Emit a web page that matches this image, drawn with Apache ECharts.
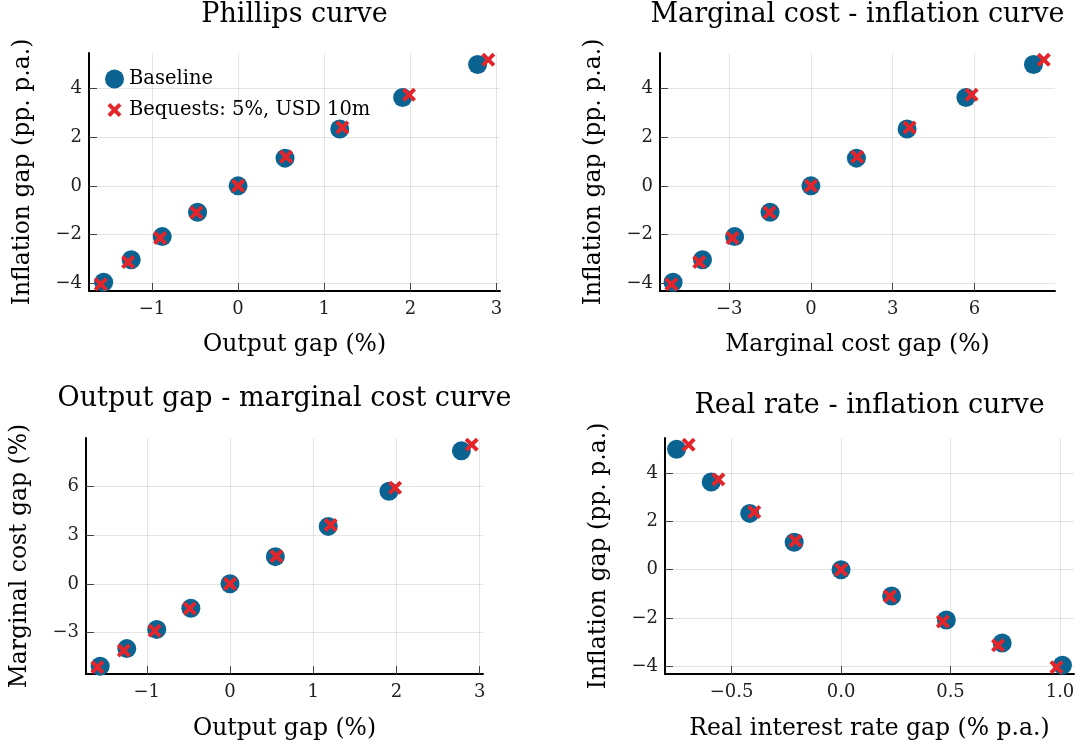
<!DOCTYPE html>
<html>
<head>
<meta charset="utf-8">
<script src="https://cdn.jsdelivr.net/npm/echarts@6/dist/echarts.min.js"></script>
<style>html,body{margin:0;padding:0;background:#fff}#c{width:1084px;height:749px}</style>
</head>
<body>
<div id="c"></div>
<script>
// ---- data ----
const outputBase = [-1.56, -1.24, -0.88, -0.47, 0, 0.545, 1.18, 1.91, 2.78];
const inflBase   = [-3.97, -3.04, -2.09, -1.09, 0, 1.14, 2.34, 3.64, 5.0];
const mcBase     = [-5.06, -3.98, -2.80, -1.50, 0, 1.67, 3.53, 5.69, 8.17];
const rrBase     = [1.011, 0.736, 0.481, 0.231, 0, -0.214, -0.417, -0.593, -0.751];

const outputBeq  = [-1.593, -1.276, -0.905, -0.484, 0, 0.557, 1.21, 1.984, 2.904];
const inflBeq    = [-4.05, -3.14, -2.15, -1.10, 0, 1.20, 2.40, 3.75, 5.19];
const mcBeq      = [-5.12, -4.10, -2.88, -1.52, 0, 1.70, 3.62, 5.90, 8.55];
const rrBeq      = [0.984, 0.717, 0.465, 0.223, 0, -0.208, -0.396, -0.560, -0.696];

const outputTicks = [-1, 0, 1, 2, 3];
const inflTicks   = [-4, -2, 0, 2, 4];
const mcTicks     = [-3, 0, 3, 6];
const rrTicks     = [-0.5, 0, 0.5, 1.0];

const seriesNames = ['Baseline', 'Bequests: 5%, USD 10m'];
const titles = ['Phillips curve', 'Marginal cost - inflation curve', 'Output gap - marginal cost curve', 'Real rate - inflation curve'];

// ---- styling ----
const FONT = 'DejaVu Serif';
const BLUE = '#0a6390';
const RED = '#e3262b';
const X_PATH = 'path://M2,0 L5,3 L8,0 L10,2 L7,5 L10,8 L8,10 L5,7 L2,10 L0,8 L3,5 L0,2 Z';
const X_LEGEND = 'path://M-1.8,-1.8 M11.8,11.8 M2,0 L5,3 L8,0 L10,2 L7,5 L10,8 L8,10 L5,7 L2,10 L0,8 L3,5 L0,2 Z';

function zip(a, b) { return a.map((v, i) => [v, b[i]]); }
function fmt(dec) {
  return v => {
    let s = dec ? Number(v).toFixed(dec) : String(Math.round(v * 1000) / 1000);
    return s.replace('-', '\u2212');
  };
}

const grids = [
  {left: 89, top: 53, width: 411, height: 238},
  {left: 660, top: 53, width: 395, height: 238},
  {left: 86, top: 438, width: 397, height: 236},
  {left: 665, top: 438, width: 409, height: 236}
];

function axis(kind, idx, name, min, max, ticks, dec, nameGap) {
  return {
    type: 'value',
    gridIndex: idx,
    name: name,
    nameLocation: 'middle',
    nameGap: nameGap,
    nameTextStyle: {fontFamily: FONT, fontSize: kind === 'x' ? 23.5 : 23.5, color: '#000'},
    min: min, max: max,
    axisLine: {show: true, onZero: false, lineStyle: {color: '#000', width: 2}},
    axisTick: {show: true, inside: true, length: 8, customValues: ticks, lineStyle: {color: '#444', width: 1}},
    axisLabel: {show: true, customValues: ticks, margin: kind === 'x' ? 9 : 7, fontFamily: FONT, fontSize: 18, color: '#222', formatter: fmt(dec), showMinLabel: true, showMaxLabel: true},
    splitLine: {show: true, lineStyle: {color: 'rgba(0,0,0,0.1)', width: 1}}
  };
}

const xAxes = [
  axis('x', 0, 'Output gap (%)', -1.73, 3.04, outputTicks, 0, 42),
  axis('x', 1, 'Marginal cost gap (%)', -5.54, 8.96, mcTicks, 0, 42),
  axis('x', 2, 'Output gap (%)', -1.73, 3.04, outputTicks, 0, 43),
  axis('x', 3, 'Real interest rate gap (% p.a.)', -0.804, 1.064, rrTicks, 1, 43)
];
const yAxes = [
  axis('y', 0, 'Inflation gap (pp. p.a.)', -4.33, 5.47, inflTicks, 0, 54),
  axis('y', 1, 'Inflation gap (pp. p.a.)', -4.33, 5.47, inflTicks, 0, 54),
  axis('y', 2, 'Marginal cost gap (%)', -5.54, 8.96, mcTicks, 0, 54),
  axis('y', 3, 'Inflation gap (pp. p.a.)', -4.33, 5.47, inflTicks, 0, 54)
];

const pairs = [
  [outputBase, inflBase, outputBeq, inflBeq],
  [mcBase, inflBase, mcBeq, inflBeq],
  [outputBase, mcBase, outputBeq, mcBeq],
  [rrBase, inflBase, rrBeq, inflBeq]
];

const series = [];
pairs.forEach((p, i) => {
  series.push({
    type: 'scatter', name: seriesNames[0], xAxisIndex: i, yAxisIndex: i,
    data: zip(p[0], p[1]), symbol: 'circle', symbolSize: 19,
    itemStyle: {color: BLUE, opacity: 1}, z: 2, silent: true
  });
  series.push({
    type: 'scatter', name: seriesNames[1], xAxisIndex: i, yAxisIndex: i,
    data: zip(p[2], p[3]), symbol: X_PATH, symbolSize: 14,
    itemStyle: {color: RED, opacity: 1}, z: 3, silent: true
  });
});

const titleCenters = [
  [294.5, 1], [857.5, 1], [284.5, 385], [869.5, 392]
];

const option = {
  animation: false,
  backgroundColor: '#fff',
  title: titles.map((t, i) => ({
    text: t, left: titleCenters[i][0], top: titleCenters[i][1], textAlign: 'center', padding: 0,
    textStyle: {fontFamily: FONT, fontSize: 27, fontWeight: 'normal', color: '#000'}
  })),
  legend: {
    data: [{name: seriesNames[0], icon: 'circle'}, {name: seriesNames[1], icon: X_LEGEND}],
    orient: 'vertical', left: 105, top: 69, padding: 0,
    itemWidth: 19, itemHeight: 19, itemGap: 11, selectedMode: false,
    textStyle: {fontFamily: FONT, fontSize: 19.5, color: '#000'}
  },
  grid: grids,
  xAxis: xAxes,
  yAxis: yAxes,
  series: series
};

const chart = echarts.init(document.getElementById('c'), null, {renderer: 'canvas'});
chart.setOption(option);
</script>
</body>
</html>
